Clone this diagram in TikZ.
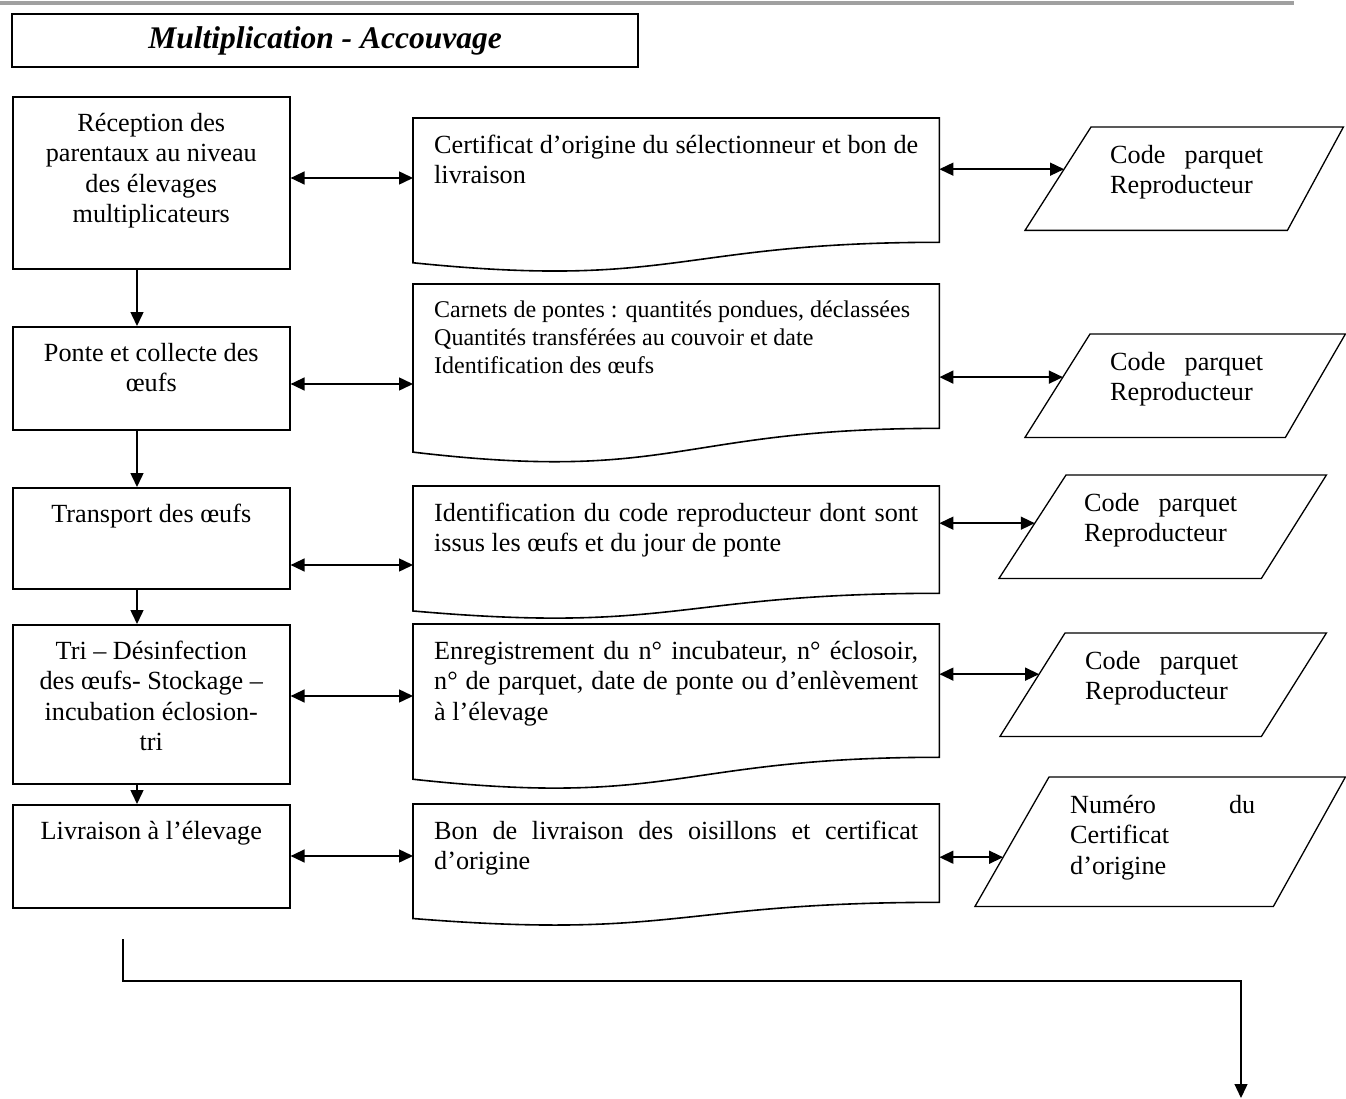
\documentclass[tikz,border=0pt]{standalone}
\usepackage{fontspec}
\setmainfont{Liberation Serif}
\usetikzlibrary{arrows.meta,positioning,calc}
\definecolor{Rule}{HTML}{A0A0A0}
\newcommand{\bodyfont}{\fontsize{26.2}{30.5}\selectfont}
\newcommand{\smallbodyfont}{\fontsize{24}{28}\selectfont}
\newcommand{\titlefont}{\fontsize{31.5}{36}\selectfont\bfseries\itshape}
\newcommand{\topgap}[1]{\rule{0pt}{#1}}
% document outline with a wavy bottom
\newcommand{\docoutline}[1]{%
  \draw[docline] (#1.north west) -- (#1.north east)
    -- ($(#1.north east)!0.802!(#1.south east)$)
    .. controls ($(#1.north)!0.802!(#1.south)$) and ($(#1.north)!1.1075!(#1.south)$)
    .. ($(#1.north west)!0.934!(#1.south west)$) -- cycle;}
% slanted data box
\newcommand{\slantoutline}[3]{%
  \draw[slantline] (#1.south west) -- ([xshift=#2pt]#1.north west) coordinate (#1tl)
    -- (#1.north east) -- ([xshift=-#3pt]#1.south east) -- cycle;}
\tikzset{
  proc/.style={draw, line width=1.6pt, inner sep=0pt, minimum width=277pt, anchor=north west},
  docu/.style={inner sep=0pt, minimum width=526pt, anchor=north west},
  slantbox/.style={inner sep=0pt, anchor=north west},
  heading/.style={draw, line width=1.6pt, minimum width=626pt, minimum height=53pt,
    inner sep=0pt, font=\titlefont},
  lbl/.style={inner sep=0pt, font=\bodyfont, align=left, anchor=north west},
  lblc/.style={lbl, align=center, anchor=north},
  docline/.style={line width=1.6pt},
  slantline/.style={line width=1.3pt},
  arr/.style={-{Triangle[length=14pt,width=13pt]}, line width=1.5pt},
  dbl/.style={{Triangle[length=14pt,width=13pt]}-{Triangle[length=14pt,width=13pt]}, line width=1.5pt}
}
\begin{document}
\begin{tikzpicture}[x=1pt,y=-1pt]
  \useasboundingbox (0,0) rectangle (1346,1099);
  \fill[Rule] (0,1) rectangle (1294,5.5);
  \node[heading] (ttl) at (325,40.5) {Multiplication - Accouvage};

  % steps
  \node[proc,minimum height=172pt] (b1) at (12,96) {};
  \node[proc,minimum height=103pt] (b2) at (12,326) {};
  \node[proc,minimum height=101pt] (b3) at (12,487) {};
  \node[proc,minimum height=159pt] (b4) at (12,624) {};
  \node[proc,minimum height=103pt] (b5) at (12,804) {};
  \node[lblc] (b1t) at (b1.north) {\topgap{35pt}Réception des\\parentaux au niveau\\des élevages\\multiplicateurs};
  \node[lblc] (b2t) at (b2.north) {\topgap{35pt}Ponte et collecte des\\œufs};
  \node[lblc] (b3t) at (b3.north) {\topgap{35pt}Transport des œufs};
  \node[lblc] (b4t) at (b4.north) {\topgap{35pt}Tri – Désinfection\\des œufs- Stockage –\\incubation éclosion-\\tri};
  \node[lblc] (b5t) at (b5.north) {\topgap{35pt}Livraison à l’élevage};

  % records
  \node[docu,minimum height=154.6pt] (d1) at (413,118) {};
  \node[docu,minimum height=179.6pt] (d2) at (413,284) {};
  \node[docu,minimum height=133.4pt] (d3) at (413,486) {};
  \node[docu,minimum height=165.8pt] (d4) at (413,624) {};
  \node[docu,minimum height=122.2pt] (d5) at (413,804) {};
  \foreach \d in {d1,d2,d3,d4,d5} {\docoutline{\d}}
  \node[lbl] (d1t) at ([xshift=21pt]d1.north west) {\topgap{35pt}\makebox[484pt][s]{Certificat d’origine du sélectionneur et bon de}\\livraison};
  \node[lbl,font=\smallbodyfont] (d2t) at ([xshift=21pt]d2.north west) {\topgap{33pt}Carnets de pontes : quantités pondues, déclassées\\Quantités transférées au couvoir et date\\Identification des œufs};
  \node[lbl] (d3t) at ([xshift=21pt]d3.north west) {\topgap{35pt}\makebox[484pt][s]{Identification du code reproducteur dont sont}\\issus les œufs et du jour de ponte};
  \node[lbl] (d4t) at ([xshift=21pt]d4.north west) {\topgap{35pt}\makebox[484pt][s]{Enregistrement du n° incubateur, n° éclosoir,}\\\makebox[484pt][s]{n° de parquet, date de ponte ou d’enlèvement}\\à l’élevage};
  \node[lbl] (d5t) at ([xshift=21pt]d5.north west) {\topgap{35pt}\makebox[484pt][s]{Bon de livraison des oisillons et certificat}\\d’origine};

  % codes
  \node[slantbox,minimum width=318pt,minimum height=103pt] (p1) at (1025,127) {};
  \node[slantbox,minimum width=320pt,minimum height=103pt] (p2) at (1025,334) {};
  \node[slantbox,minimum width=327pt,minimum height=103pt] (p3) at (999,475) {};
  \node[slantbox,minimum width=326pt,minimum height=103pt] (p4) at (1000,633) {};
  \node[slantbox,minimum width=370pt,minimum height=129pt] (p5) at (975,777) {};
  \slantoutline{p1}{66}{56}
  \slantoutline{p2}{65}{60}
  \slantoutline{p3}{67}{65}
  \slantoutline{p4}{65}{65}
  \slantoutline{p5}{74}{72}
  \foreach \p in {p1,p2,p3,p4} {
    \node[lbl] (\p t) at ([xshift=85pt]\p.north west) {\topgap{36pt}\makebox[153pt][s]{Code parquet}\\Reproducteur};
  }
  \node[lbl] (p5t) at ([xshift=95pt]p5.north west) {\topgap{36pt}\makebox[185pt][s]{Numéro du}\\Certificat\\d’origine};

  % flow down the steps
  \coordinate (vx) at (137,0);
  \draw[arr] (b1.south -| vx) -- (b2.north -| vx);
  \draw[arr] (b2.south -| vx) -- (b3.north -| vx);
  \draw[arr] (b3.south -| vx) -- (b4.north -| vx);
  \draw[arr] (b4.south -| vx) -- (b5.north -| vx);

  % steps <-> records
  \coordinate (r1) at (0,178);
  \coordinate (r2) at (0,384);
  \coordinate (r3) at (0,565);
  \coordinate (r4) at (0,696);
  \coordinate (r5) at (0,856);
  \foreach \i in {1,...,5} {\draw[dbl] (b\i.east |- r\i) -- (d\i.west |- r\i);}

  % records <-> codes
  \coordinate (e1) at ($(p1.south west)!0.592!(p1tl)$);
  \coordinate (e2) at ($(p2.south west)!0.583!(p2tl)$);
  \coordinate (e3) at ($(p3.south west)!0.534!(p3tl)$);
  \coordinate (e4) at ($(p4.south west)!0.602!(p4tl)$);
  \coordinate (e5) at ($(p5.south west)!0.380!(p5tl)$);
  \foreach \i in {1,...,5} {\draw[dbl] (d\i.east |- e\i) -- (e\i);}

  % exit
  \coordinate (outA) at (123,939);
  \coordinate (elbow) at (123,981);
  \coordinate (outB) at (1241,1098);
  \draw[arr,line width=1.3pt] (outA) -- (elbow) -| (outB);
\end{tikzpicture}
\end{document}
